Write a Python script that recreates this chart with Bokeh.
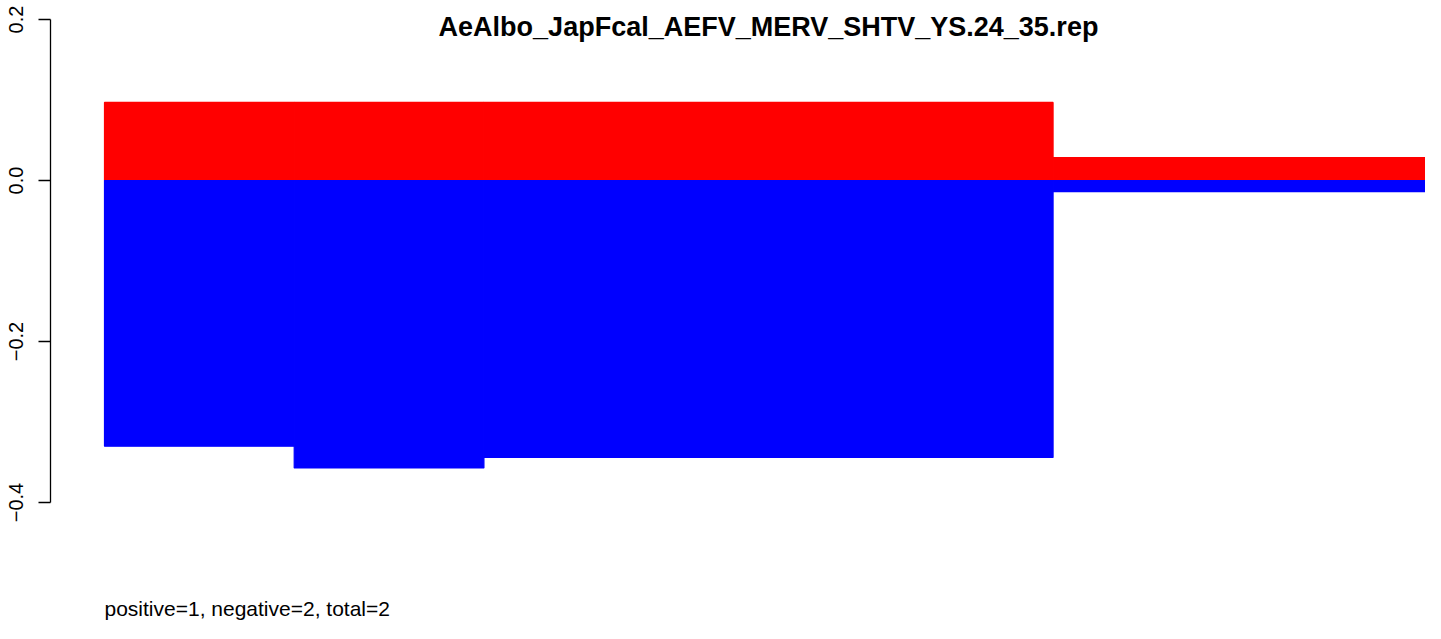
from bokeh.plotting import figure
from bokeh.models import Range1d, LinearAxis, FixedTicker, Label, ColumnDataSource
from bokeh.embed import file_html
from bokeh.resources import INLINE

# ---- data ----
title_text = "AeAlbo_JapFcal_AEFV_MERV_SHTV_YS.24_35.rep"
footer_text = "positive=1, negative=2, total=2"

seg_start = [0, 1, 2, 5]
seg_end = [1, 2, 5, 7]
positive = [0.097, 0.097, 0.097, 0.0286]
negative = [-0.330, -0.357, -0.344, -0.0137]

y_ticks = [-0.4, -0.2, 0.0, 0.2]
y_tick_labels = ["\u22120.4", "\u22120.2", "0.0", "0.2"]

zeros = [0.0] * len(seg_start)
pos_src = ColumnDataSource(dict(left=seg_start, right=seg_end, top=positive, bottom=zeros))
neg_src = ColumnDataSource(dict(left=seg_start, right=seg_end, top=zeros, bottom=negative))

p = figure(width=1425, height=623, output_backend="svg", toolbar_location=None,
           x_range=Range1d(-0.2846, 6.9631), y_range=Range1d(-0.5503, 0.2236),
           min_border_left=50, min_border_right=0, min_border_top=0, min_border_bottom=0,
           x_axis_location=None, y_axis_location=None)
p.grid.visible = False
p.outline_line_color = None
p.background_fill_color = "white"
p.border_fill_color = "white"

p.quad(left="left", right="right", top="top", bottom="bottom", source=pos_src,
       fill_color="#FF0000", line_color="#FF0000", line_width=1.2)
p.quad(left="left", right="right", top="top", bottom="bottom", source=neg_src,
       fill_color="#0000FF", line_color="#0000FF", line_width=1.2)

yaxis = LinearAxis(ticker=FixedTicker(ticks=y_ticks), bounds=(y_ticks[0], y_ticks[-1]))
yaxis.major_label_overrides = {t: l for t, l in zip(y_ticks, y_tick_labels)}
yaxis.major_label_orientation = "vertical"
yaxis.major_label_text_font = "Liberation Sans"
yaxis.major_label_text_font_size = "20px"
yaxis.major_label_text_color = "black"
yaxis.major_label_standoff = 15
yaxis.major_tick_out = 12
yaxis.major_tick_in = 0
yaxis.minor_tick_out = 0
yaxis.minor_tick_in = 0
yaxis.axis_line_color = "black"
yaxis.axis_line_width = 1.3
yaxis.major_tick_line_color = "black"
yaxis.major_tick_line_width = 1.3
p.add_layout(yaxis, "left")

title = Label(x=(seg_start[0] + seg_end[-1]) / 2, y=0.1913, text=title_text,
              text_align="center", text_baseline="alphabetic",
              text_font="Liberation Sans", text_font_style="bold",
              text_font_size="27px", text_color="black")
p.add_layout(title)

footer = Label(x=seg_start[0], y=-0.5317, text=footer_text,
               text_align="left", text_baseline="alphabetic",
               text_font="Liberation Sans", text_font_size="21px", text_color="black")
p.add_layout(footer)

open("out.html", "w").write(file_html(p, INLINE))
